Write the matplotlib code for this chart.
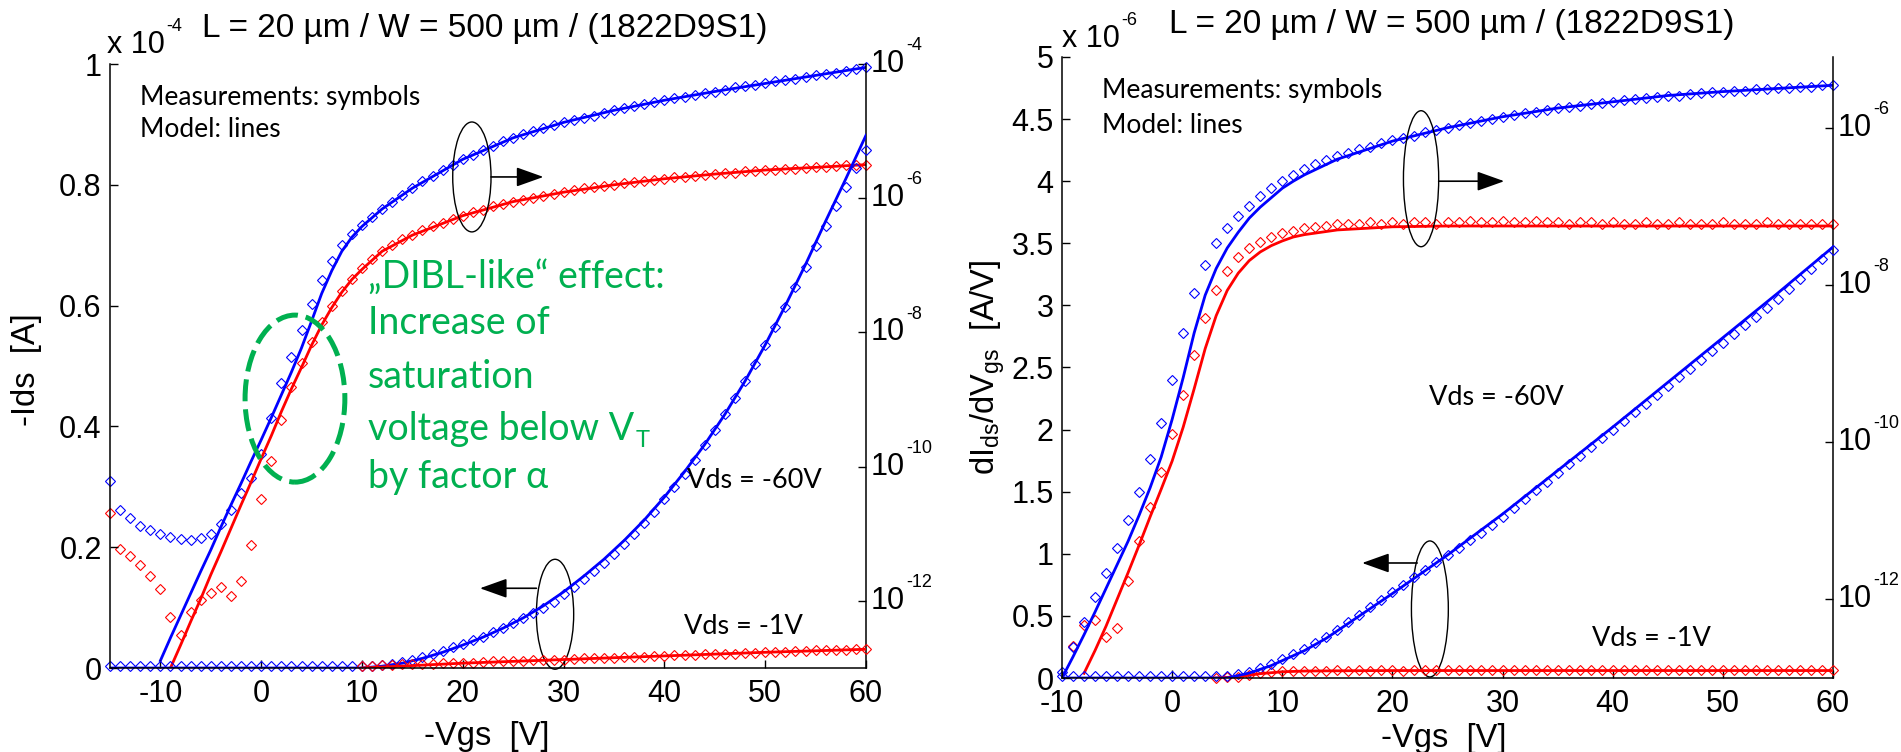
import numpy as np
import matplotlib
matplotlib.use('Agg')
import matplotlib.pyplot as plt
from matplotlib.patches import Ellipse
from matplotlib.ticker import FixedLocator, NullLocator, NullFormatter

plt.rcParams['font.family'] = ['Liberation Sans', 'DejaVu Sans']
plt.rcParams['mathtext.fontset'] = 'custom'
plt.rcParams['mathtext.rm'] = 'Liberation Sans'
plt.rcParams['mathtext.it'] = 'Liberation Sans:italic'
plt.rcParams['mathtext.bf'] = 'Liberation Sans:bold'
plt.rcParams['axes.unicode_minus'] = False

W, H = 1901, 752
BLUE = '#0000ff'
RED = '#ff0000'
GREEN = '#00b050'
CAL = ['Lato', 'DejaVu Sans']

# ---------------- transfer curve (left), -Vgs sweep -15..60 V ----------------
vgs_l = np.arange(-15, 61)

# log10(-Ids) measured, Vds = -60V
logid60_meas = [-10.21, -10.64, -10.77, -10.88, -10.95, -11.00, -11.05, -11.08, -11.09, -11.07,
                -11.00, -10.86, -10.64, -10.39, -10.17, -9.81, -9.27, -8.75, -8.36, -7.96,
                -7.58, -7.22, -6.93, -6.70, -6.54, -6.40, -6.28, -6.16, -6.05, -5.95,
                -5.85, -5.75, -5.67, -5.58, -5.50, -5.42, -5.35, -5.28, -5.22, -5.15,
                -5.10, -5.04, -5.00, -4.95, -4.91, -4.87, -4.84, -4.80, -4.77, -4.73,
                -4.69, -4.66, -4.63, -4.59, -4.57, -4.54, -4.51, -4.49, -4.46, -4.43,
                -4.41, -4.38, -4.35, -4.33, -4.31, -4.29, -4.26, -4.24, -4.22, -4.20,
                -4.17, -4.15, -4.13, -4.10, -4.07, -4.05]
# log10(-Ids) measured, Vds = -1V
logid1_meas = [-10.69, -11.22, -11.33, -11.47, -11.63, -11.83, -12.24, -12.51, -12.16, -11.99,
               -11.88, -11.79, -11.92, -11.70, -11.16, -10.48, -9.91, -9.31, -8.81, -8.46,
               -8.14, -7.85, -7.60, -7.38, -7.20, -7.04, -6.91, -6.79, -6.70, -6.61,
               -6.55, -6.48, -6.42, -6.37, -6.31, -6.26, -6.21, -6.17, -6.12, -6.09,
               -6.05, -6.02, -5.99, -5.96, -5.94, -5.91, -5.88, -5.85, -5.84, -5.82,
               -5.80, -5.78, -5.76, -5.75, -5.73, -5.71, -5.69, -5.68, -5.67, -5.66,
               -5.64, -5.63, -5.62, -5.60, -5.59, -5.58, -5.58, -5.57, -5.56, -5.55,
               -5.54, -5.53, -5.52, -5.51, -5.51, -5.50]
# -Ids measured, linear, in 1e-4 A
id60_meas = [0.004, 0.004, 0.004, 0.004, 0.004, 0.004, 0.004, 0.004, 0.004, 0.004,
             0.004, 0.004, 0.004, 0.004, 0.004, 0.004, 0.004, 0.004, 0.004, 0.004,
             0.004, 0.004, 0.004, 0.004, 0.004, 0.004, 0.004, 0.005, 0.007, 0.010,
             0.014, 0.018, 0.023, 0.028, 0.034, 0.040, 0.046, 0.052, 0.059, 0.066,
             0.074, 0.082, 0.091, 0.100, 0.110, 0.122, 0.134, 0.147, 0.160, 0.174,
             0.189, 0.205, 0.222, 0.240, 0.259, 0.279, 0.300, 0.322, 0.345, 0.369,
             0.394, 0.420, 0.447, 0.475, 0.504, 0.534, 0.565, 0.597, 0.630, 0.664,
             0.698, 0.732, 0.765, 0.797, 0.828, 0.857]
vgs_l_id1 = np.arange(10, 61)
id1_meas = [0.004, 0.004, 0.005, 0.005, 0.006, 0.006, 0.007, 0.007, 0.008, 0.008,
            0.009, 0.009, 0.010, 0.011, 0.011, 0.012, 0.012, 0.013, 0.013, 0.014,
            0.014, 0.015, 0.016, 0.016, 0.017, 0.017, 0.018, 0.019, 0.019, 0.020,
            0.020, 0.021, 0.022, 0.022, 0.023, 0.023, 0.024, 0.024, 0.025, 0.025,
            0.026, 0.027, 0.027, 0.028, 0.028, 0.029, 0.029, 0.030, 0.030, 0.031, 0.031]

# model
vgs_l_mod60_log = [-10, -9, -8, -7, -6, -5, -4, -3, -2, -1, 0, 1, 2, 3, 4, 5, 6, 7, 8, 9, 10,
                   12, 15, 20, 25, 30, 35, 40, 45, 50, 55, 60]
logid60_mod = [-12.89, -12.55, -12.22, -11.89, -11.56, -11.24, -10.90, -10.57, -10.25, -9.92,
               -9.60, -9.27, -8.93, -8.59, -8.23, -7.83, -7.42, -7.08, -6.79, -6.58, -6.42,
               -6.16, -5.85, -5.42, -5.10, -4.87, -4.69, -4.54, -4.41, -4.29, -4.17, -4.05]
vgs_l_mod1_log = [-9, -8, -7, -6, -5, -4, -3, -2, -1, 0, 1, 2, 3, 4, 5, 6, 7, 8, 9, 10,
                  12, 15, 20, 25, 30, 35, 40, 45, 50, 55, 60]
logid1_mod = [-13.00, -12.66, -12.31, -11.97, -11.61, -11.27, -10.92, -10.57, -10.23, -9.88,
              -9.54, -9.18, -8.84, -8.52, -8.19, -7.89, -7.63, -7.40, -7.21, -7.06,
              -6.79, -6.55, -6.26, -6.05, -5.91, -5.80, -5.71, -5.64, -5.58, -5.54, -5.50]
vgs_l_mod60_lin = [-15, 10, 12, 14, 16, 18, 20, 22, 24, 26, 28, 30, 32, 34, 36, 38, 40,
                   42, 44, 46, 48, 50, 52, 54, 56, 58, 60]
id60_mod = [0.0, 0.0, 0.003, 0.008, 0.016, 0.026, 0.038, 0.051, 0.066, 0.083, 0.103, 0.126,
            0.152, 0.180, 0.211, 0.245, 0.283, 0.325, 0.370, 0.420, 0.475, 0.535, 0.600,
            0.668, 0.740, 0.810, 0.882]
vgs_l_mod1_lin = [10, 20, 30, 40, 50, 60]
id1_mod = [0.0, 0.008, 0.014, 0.020, 0.026, 0.031]

# ---------------- transconductance (right), -Vgs sweep -10..60 V ----------------
vgs_r = np.arange(-10, 61)

# log10(dIds/dVgs) measured, Vds = -60V
loggm60_meas = [-12.92, -12.61, -12.29, -11.97, -11.66, -11.34, -10.99, -10.63, -10.22, -9.75,
                -9.21, -8.61, -8.10, -7.74, -7.47, -7.28, -7.12, -7.00, -6.87, -6.77,
                -6.68, -6.60, -6.52, -6.46, -6.41, -6.36, -6.32, -6.27, -6.24, -6.19,
                -6.16, -6.13, -6.10, -6.06, -6.03, -6.00, -5.97, -5.94, -5.91, -5.89,
                -5.86, -5.84, -5.81, -5.80, -5.78, -5.75, -5.73, -5.72, -5.70, -5.68,
                -5.67, -5.65, -5.64, -5.62, -5.61, -5.59, -5.59, -5.57, -5.56, -5.54,
                -5.54, -5.53, -5.53, -5.51, -5.51, -5.50, -5.50, -5.48, -5.48, -5.46, -5.46]
# log10(dIds/dVgs) measured, Vds = -1V
vgs_r_gm1_log = np.arange(-9, 61)
loggm1_meas = [-12.59, -12.32, -12.26, -12.48, -12.37, -11.77, -11.26, -10.82, -10.38, -9.90,
               -9.40, -8.89, -8.42, -8.07, -7.82, -7.64, -7.53, -7.45, -7.39, -7.34,
               -7.31, -7.28, -7.26, -7.25, -7.23, -7.22, -7.22, -7.20, -7.22, -7.20,
               -7.22, -7.20, -7.20, -7.22, -7.20, -7.20, -7.19, -7.20, -7.20, -7.19,
               -7.20, -7.20, -7.19, -7.20, -7.20, -7.22, -7.20, -7.20, -7.22, -7.20,
               -7.22, -7.22, -7.20, -7.22, -7.22, -7.20, -7.22, -7.22, -7.22, -7.20,
               -7.22, -7.22, -7.22, -7.20, -7.22, -7.22, -7.22, -7.22, -7.22, -7.22]
# dIds/dVgs measured, linear, in 1e-6 A/V
gm60_meas = [0.02, 0.02, 0.02, 0.02, 0.02, 0.02, 0.02, 0.02, 0.02, 0.02,
             0.02, 0.02, 0.02, 0.02, 0.02, 0.02, 0.03, 0.05, 0.08, 0.11,
             0.15, 0.19, 0.23, 0.28, 0.33, 0.39, 0.45, 0.51, 0.57, 0.63,
             0.69, 0.75, 0.81, 0.87, 0.93, 0.99, 1.05, 1.11, 1.17, 1.23,
             1.30, 1.37, 1.44, 1.51, 1.58, 1.65, 1.72, 1.79, 1.86, 1.93,
             2.00, 2.07, 2.14, 2.21, 2.28, 2.35, 2.42, 2.49, 2.56, 2.63,
             2.70, 2.77, 2.84, 2.91, 2.98, 3.05, 3.13, 3.21, 3.29, 3.37, 3.45]
vgs_r_gm1_lin = np.arange(4, 61)
gm1_meas = [0.0, 0.005, 0.01, 0.025, 0.04, 0.05, 0.055, 0.058, 0.06, 0.06,
            0.06, 0.061, 0.06, 0.062, 0.06, 0.061, 0.062, 0.06, 0.061, 0.062,
            0.061, 0.062, 0.063, 0.062, 0.061, 0.062, 0.063, 0.062, 0.062, 0.063,
            0.062, 0.063, 0.062, 0.062, 0.063, 0.062, 0.062, 0.063, 0.062, 0.062,
            0.062, 0.063, 0.062, 0.062, 0.062, 0.063, 0.062, 0.062, 0.062, 0.062,
            0.062, 0.062, 0.063, 0.062, 0.062, 0.062, 0.062]

# model
vgs_r_mod60_log = [-10, -9, -8, -7, -6, -5, -4, -3, -2, -1, 0, 1, 2, 3, 4, 5, 6, 7, 8, 9, 10,
                   11, 12, 15, 20, 25, 30, 35, 40, 45, 50, 55, 60]
loggm60_mod = [-13.00, -12.73, -12.45, -12.16, -11.86, -11.56, -11.26, -10.93, -10.58, -10.19,
               -9.71, -9.18, -8.61, -8.13, -7.79, -7.53, -7.33, -7.15, -7.01, -6.89, -6.77,
               -6.68, -6.60, -6.40, -6.17, -6.00, -5.86, -5.75, -5.67, -5.59, -5.54, -5.50, -5.46]
vgs_r_mod1_log = [-8, -7, -6, -5, -4, -3, -2, -1, 0, 1, 2, 3, 4, 5, 6, 7, 8, 9, 10, 11, 12,
                  15, 20, 25, 30, 40, 50, 60]
loggm1_mod = [-12.94, -12.65, -12.34, -12.00, -11.66, -11.31, -10.95, -10.60, -10.24, -9.81,
              -9.32, -8.81, -8.39, -8.07, -7.85, -7.69, -7.58, -7.50, -7.44, -7.39, -7.36,
              -7.30, -7.26, -7.25, -7.25, -7.25, -7.25, -7.25]
vgs_r_mod60_lin = [-10, 5, 6, 7, 8, 9, 10, 12, 14, 16, 18, 20, 25, 30, 35, 40, 45, 50, 55, 60]
gm60_mod = [0.0, 0.0, 0.02, 0.04, 0.07, 0.10, 0.14, 0.22, 0.32, 0.44, 0.56, 0.68, 0.99, 1.32,
            1.67, 2.02, 2.38, 2.74, 3.10, 3.47]
vgs_r_mod1_lin = [4, 6, 8, 10, 12, 15, 20, 60]
gm1_mod = [0.0, 0.01, 0.035, 0.05, 0.056, 0.058, 0.06, 0.06]

TICK_FS = 22
SUP_FS = 13


def rect(x0, y0, x1, y1):
    return [x0 / W, 1 - y1 / H, (x1 - x0) / W, (y1 - y0) / H]


def fpos(x, y):
    return x / W, 1 - y / H


def add_sup(ax, base, s):
    # small raised exponent next to a "10"
    ax.annotate(s, xy=(1, 0.97), xycoords=base, xytext=(1, -3), textcoords='offset points',
                ha='left', va='bottom', fontsize=SUP_FS)


def make_axes(fig, r, xlim, xticks, ylim, yticks, yticklabels, logylim, decades):
    ax_log = fig.add_axes(r)
    ax = fig.add_axes(r)
    ax.patch.set_visible(False)

    ax_log.set_yscale('log')
    ax_log.set_xlim(*xlim)
    ax_log.set_ylim(*logylim)
    ax_log.yaxis.set_major_locator(FixedLocator([1e-12, 1e-10, 1e-8, 1e-6, 1e-4]))
    ax_log.yaxis.set_minor_locator(NullLocator())
    ax_log.yaxis.set_major_formatter(NullFormatter())
    ax_log.yaxis.tick_right()
    ax_log.tick_params(axis='y', which='both', direction='in', length=6, width=1)
    ax_log.tick_params(axis='x', bottom=False, labelbottom=False)
    for s in ['top', 'left', 'bottom']:
        ax_log.spines[s].set_visible(False)
    ax_log.spines['right'].set_linewidth(1.1)
    tr = ax_log.get_yaxis_transform()
    for d in decades:
        t = ax_log.annotate('10', xy=(1, 10.0 ** d), xycoords=tr, xytext=(3.5, 0),
                            textcoords='offset points', ha='left', va='center',
                            fontsize=TICK_FS)
        add_sup(ax_log, t, str(d))

    ax.set_xlim(*xlim)
    ax.set_ylim(*ylim)
    ax.set_xticks(xticks)
    ax.set_yticks(yticks)
    ax.set_yticklabels(yticklabels)
    ax.spines['top'].set_visible(False)
    ax.spines['right'].set_visible(False)
    ax.spines['left'].set_linewidth(1.1)
    ax.spines['bottom'].set_linewidth(1.1)
    ax.tick_params(direction='in', length=6, width=1, labelsize=TICK_FS, top=False, right=False)
    ax.tick_params(axis='x', pad=8)
    ax.tick_params(axis='y', pad=6)
    return ax, ax_log


def meas(ax, x, y, c):
    ax.plot(x, y, ls='none', marker='D', ms=4.8, mfc='none', mec=c, mew=0.8, clip_on=False)


def model(ax, x, y, c):
    ax.plot(x, y, color=c, lw=2.0)


fig = plt.figure(figsize=(W / 100, H / 100), dpi=100)

# ---- left panel: Ids ----
axL, axL_log = make_axes(fig, rect(110, 64, 866, 668), (-15, 60), range(-10, 61, 10),
                         (0, 1), [0, 0.2, 0.4, 0.6, 0.8, 1],
                         ['0', '0.2', '0.4', '0.6', '0.8', '1'], (1e-13, 1e-4),
                         [-4, -6, -8, -10, -12])

meas(axL_log, vgs_l, 10.0 ** np.array(logid1_meas), RED)
meas(axL_log, vgs_l, 10.0 ** np.array(logid60_meas), BLUE)
model(axL_log, vgs_l_mod1_log, 10.0 ** np.array(logid1_mod), RED)
model(axL_log, vgs_l_mod60_log, 10.0 ** np.array(logid60_mod), BLUE)

meas(axL, vgs_l, id60_meas, BLUE)
model(axL, vgs_l_mod60_lin, id60_mod, BLUE)
meas(axL, vgs_l_id1, id1_meas, RED)
model(axL, vgs_l_mod1_lin, id1_mod, RED)

# ---- right panel: gm ----
axR, axR_log = make_axes(fig, rect(1062, 57, 1833, 678), (-10, 60), range(-10, 61, 10),
                         (0, 5), [0, 0.5, 1, 1.5, 2, 2.5, 3, 3.5, 4, 4.5, 5],
                         ['0', '0.5', '1', '1.5', '2', '2.5', '3', '3.5', '4', '4.5', '5'],
                         (1e-13, 10 ** -5.1), [-6, -8, -10, -12])

meas(axR_log, vgs_r_gm1_log, 10.0 ** np.array(loggm1_meas), RED)
meas(axR_log, vgs_r, 10.0 ** np.array(loggm60_meas), BLUE)
model(axR_log, vgs_r_mod1_log, 10.0 ** np.array(loggm1_mod), RED)
model(axR_log, vgs_r_mod60_log, 10.0 ** np.array(loggm60_mod), BLUE)

meas(axR, vgs_r_gm1_lin, gm1_meas, RED)
meas(axR, vgs_r, gm60_meas, BLUE)
model(axR, vgs_r_mod1_lin, gm1_mod, RED)
model(axR, vgs_r_mod60_lin, gm60_mod, BLUE)

# ---- titles, multipliers, axis labels ----
title = 'L = 20 µm / W = 500 µm / (1822D9S1)'
fig.text(*fpos(485, 28), title, ha='center', va='center', fontsize=24)
fig.text(*fpos(1452, 25), title, ha='center', va='center', fontsize=24)
mL = fig.text(*fpos(107, 53), 'x 10', ha='left', va='baseline', fontsize=TICK_FS)
add_sup(axL, mL, '-4')
mR = fig.text(*fpos(1062, 47), 'x 10', ha='left', va='baseline', fontsize=TICK_FS)
add_sup(axR, mR, '-6')

fig.text(*fpos(487, 736), '-Vgs  [V]', ha='center', va='center', fontsize=23.5)
fig.text(*fpos(1444, 739), '-Vgs  [V]', ha='center', va='center', fontsize=23.5)
fig.text(*fpos(27, 370), '-Ids  [A]', ha='center', va='center', rotation=90, fontsize=23.5)
fig.text(*fpos(988, 367), r'dI$_{\mathrm{ds}}$/dV$_{\mathrm{gs}}$  [A/V]', ha='center',
         va='center', rotation=90, fontsize=23.5)

# ---- annotations, left ----
axL.text(-12.0, 0.945, 'Measurements: symbols', family=CAL, fontsize=19, va='center')
axL.text(-12.0, 0.891, 'Model: lines', family=CAL, fontsize=19, va='center')
axL.text(42.2, 0.31, 'Vds = -60V', family=CAL, fontsize=19.5, va='center')
axL.text(41.9, 0.068, 'Vds = -1V', family=CAL, fontsize=19.5, va='center')

axL.add_patch(Ellipse((20.9, 0.813), 3.8, 0.182, fill=False, ec='k', lw=1.0, clip_on=False))
axL.add_patch(Ellipse((29.15, 0.089), 3.7, 0.182, fill=False, ec='k', lw=1.0, clip_on=False))
arrow = dict(arrowstyle='-|>,head_length=0.7,head_width=0.25', color='k', lw=1.2,
             mutation_scale=24, shrinkA=0, shrinkB=0)
axL.annotate('', xy=(28.0, 0.813), xytext=(22.8, 0.813), arrowprops=arrow)
axL.annotate('', xy=(21.7, 0.132), xytext=(27.3, 0.132), arrowprops=arrow)

axL.add_patch(Ellipse((3.35, 0.446), 9.9, 0.2765, fill=False, ec=GREEN, lw=3.6,
                      ls=(0, (4.4, 1.6)), clip_on=False))
green_lines = ['\u201eDIBL-like\u201c effect:', 'Increase of', 'saturation',
               'voltage below V', 'by factor \u03b1']
green_y = [0.647, 0.571, 0.482, 0.396, 0.316]
for s, yy in zip(green_lines, green_y):
    t = axL.text(10.6, yy, s, family=CAL, fontsize=27, color=GREEN, va='center')
    if s.endswith(' V'):
        axL.annotate('T', xy=(1, 0), xycoords=t, xytext=(1, -3), textcoords='offset points',
                     family=CAL, fontsize=17, color=GREEN, ha='left', va='bottom')

# ---- annotations, right ----
axR.text(-6.37, 4.73, 'Measurements: symbols', family=CAL, fontsize=19, va='center')
axR.text(-6.37, 4.45, 'Model: lines', family=CAL, fontsize=19, va='center')
axR.text(23.3, 2.26, 'Vds = -60V', family=CAL, fontsize=19.5, va='center')
axR.text(38.1, 0.322, 'Vds = -1V', family=CAL, fontsize=19.5, va='center')

axR.add_patch(Ellipse((22.6, 4.02), 3.2, 1.095, fill=False, ec='k', lw=1.0, clip_on=False))
axR.add_patch(Ellipse((23.4, 0.556), 3.35, 1.095, fill=False, ec='k', lw=1.0, clip_on=False))
axR.annotate('', xy=(30.15, 4.0), xytext=(24.2, 4.0), arrowprops=arrow)
axR.annotate('', xy=(17.25, 0.926), xytext=(22.25, 0.926), arrowprops=arrow)

fig.savefig('out.png', dpi=100)
